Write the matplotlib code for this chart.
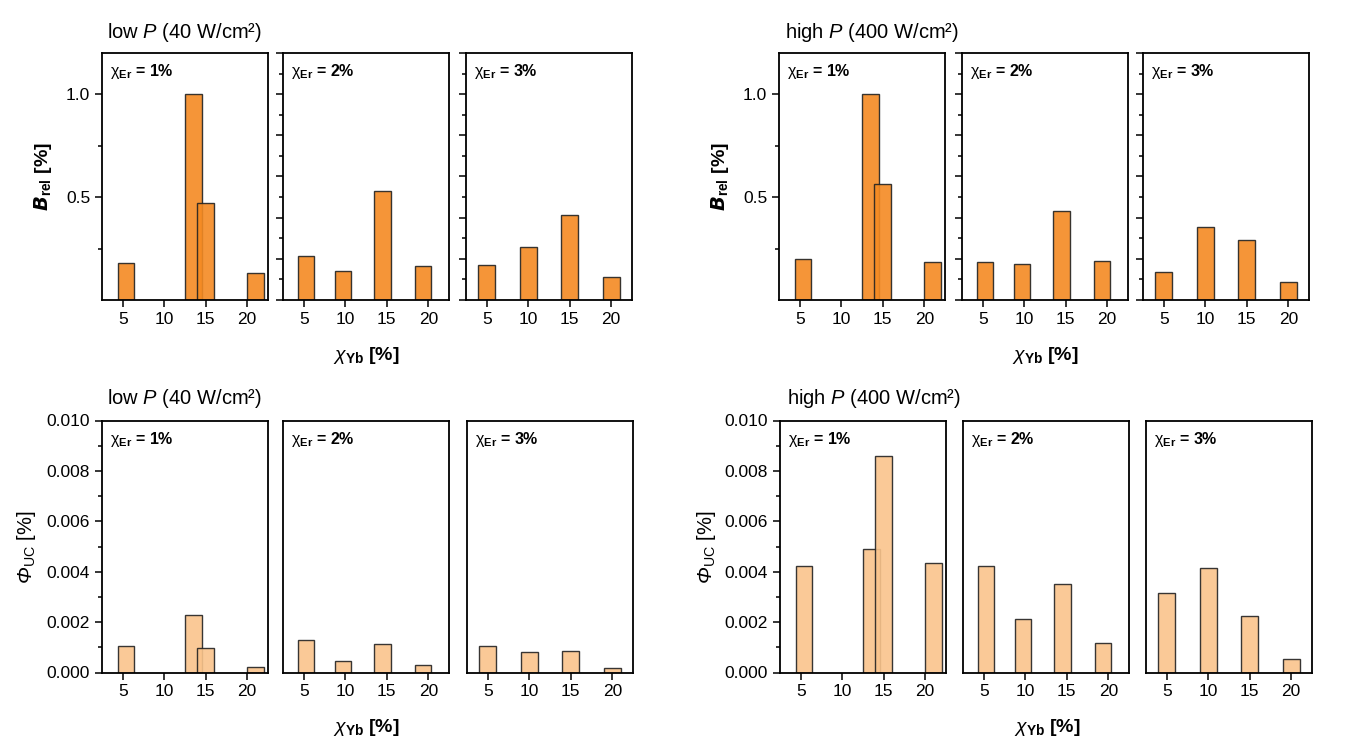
import matplotlib
matplotlib.use("Agg")
import matplotlib.pyplot as plt
from matplotlib.ticker import MultipleLocator, FixedLocator, NullLocator, NullFormatter

plt.rcParams['font.family'] = ['Liberation Sans', 'DejaVu Sans']
plt.rcParams['mathtext.fontset'] = 'custom'
# rm kursiv, damit das grosse Phi kursiv erscheint; aufrechte Teile ueber sf
plt.rcParams['mathtext.rm'] = 'Liberation Sans:italic'
plt.rcParams['mathtext.sf'] = 'Liberation Sans'
plt.rcParams['mathtext.it'] = 'Liberation Sans:italic'
plt.rcParams['mathtext.bf'] = 'Liberation Sans:bold'

# Yb-Konzentrationen je Er-Gehalt
yb_er1 = [5.4, 13.5, 15.0, 21.0]
yb_er2 = [5.25, 9.75, 14.5, 19.35]
yb_er3 = [5.0, 10.0, 15.0, 20.0]
yb_pos = [yb_er1, yb_er2, yb_er3]
er_labels = ['1%', '2%', '3%']
xticks = [5, 10, 15, 20]

# relative Helligkeit B_rel
brel_low_er1 = [0.178, 1.0, 0.47, 0.13]
brel_low_er2 = [0.214, 0.141, 0.528, 0.165]
brel_low_er3 = [0.172, 0.259, 0.413, 0.112]
brel_high_er1 = [0.198, 1.0, 0.562, 0.186]
brel_high_er2 = [0.186, 0.177, 0.434, 0.191]
brel_high_er3 = [0.136, 0.353, 0.290, 0.089]

# Quantenausbeute Phi_UC
phi_low_er1 = [0.00104, 0.00230, 0.00099, 0.00021]
phi_low_er2 = [0.00127, 0.00045, 0.00115, 0.00028]
phi_low_er3 = [0.00106, 0.00082, 0.00087, 0.00019]
phi_high_er1 = [0.00424, 0.00490, 0.00861, 0.00436]
phi_high_er2 = [0.00424, 0.00213, 0.00352, 0.00118]
phi_high_er3 = [0.00317, 0.00413, 0.00225, 0.00053]

W, H = 1369, 751
fig = plt.figure(figsize=(W / 100, H / 100), dpi=100)

col_top = '#F48A22'
col_bot = '#FAC48C'


def px_axes(left, top, width, height):
    return fig.add_axes([left / W, 1 - (top + height) / H, width / W, height / H])


def panel_group(lefts, top, height, values, color, ylim, first_ticks, other_ticks):
    axs = []
    for i, left in enumerate(lefts):
        ax = px_axes(left, top, 166, height)
        for x, v in zip(yb_pos[i], values[i]):
            ax.bar(x, v, width=2.0, color=color, alpha=0.9, edgecolor='#222222', linewidth=1.0)
        ax.set_xlim(2.5, 22.5)
        ax.set_ylim(*ylim)
        ax.set_xticks(xticks)
        ax.tick_params(axis='both', direction='out', labelsize=12.5, width=1.1, length=5)
        ax.tick_params(axis='y', which='minor', direction='out', width=1.1, length=3)
        for s in ax.spines.values():
            s.set_linewidth(1.3)
        if i == 0:
            first_ticks(ax)
        else:
            other_ticks(ax)
        ax.text(0.05, 0.925, r'$\mathsf{\chi}_{\mathbf{Er}}$ = ' + er_labels[i], transform=ax.transAxes,
                fontsize=11.5, fontweight='bold', va='center', ha='left')
        axs.append(ax)
    return axs


def top_first(ax):
    ax.yaxis.set_major_locator(FixedLocator([0.5, 1.0]))
    ax.yaxis.set_minor_locator(FixedLocator([0.25, 0.75]))
    ax.set_yticklabels(['0.5', '1.0'])


def top_other(ax):
    ax.yaxis.set_major_locator(MultipleLocator(0.2))
    ax.yaxis.set_minor_locator(MultipleLocator(0.1))
    ax.yaxis.set_major_formatter(NullFormatter())


def bot_first(ax):
    ax.yaxis.set_major_locator(MultipleLocator(0.002))
    ax.yaxis.set_minor_locator(MultipleLocator(0.001))
    ax.yaxis.set_major_formatter(plt.FuncFormatter(lambda v, p: f'{v:.3f}'))


def bot_other(ax):
    ax.yaxis.set_major_locator(NullLocator())
    ax.yaxis.set_minor_locator(NullLocator())


top_h = 247
bot_h = 252
panel_group([102, 283, 466], 53, top_h, [brel_low_er1, brel_low_er2, brel_low_er3],
            col_top, (0, 1.2), top_first, top_other)
panel_group([779, 962, 1143], 53, top_h, [brel_high_er1, brel_high_er2, brel_high_er3],
            col_top, (0, 1.2), top_first, top_other)
panel_group([102, 283, 467], 420.5, bot_h, [phi_low_er1, phi_low_er2, phi_low_er3],
            col_bot, (0, 0.010), bot_first, bot_other)
panel_group([780, 963, 1146], 420.5, bot_h, [phi_high_er1, phi_high_er2, phi_high_er3],
            col_bot, (0, 0.010), bot_first, bot_other)

# Ueberschriften
for x, y, s in [(107, 32, r'low $P$ (40 W/cm²)'), (785, 32, r'high $P$ (400 W/cm²)'),
                (107, 398, r'low $P$ (40 W/cm²)'), (787, 398, r'high $P$ (400 W/cm²)')]:
    fig.text(x / W, 1 - y / H, s, fontsize=14.5, ha='left', va='center')

# y-Achsenbeschriftung
for x in [43, 720]:
    fig.text(x / W, 1 - 177 / H, r'$\boldsymbol{B}_{\mathbf{rel}}$ [%]', rotation=90, fontsize=14,
             fontweight='bold', ha='center', va='center')
for x in [27, 707]:
    fig.text(x / W, 1 - 547 / H, r'$\Phi_{\mathsf{UC}}$ [%]', rotation=90, fontsize=14.5,
             ha='center', va='center')

# x-Achsenbeschriftung
for x, y in [(366, 355), (1045, 355), (366, 728), (1047, 728)]:
    fig.text(x / W, 1 - y / H, r'$\chi_{\mathbf{Yb}}$ [%]', fontsize=14, fontweight='bold',
             ha='center', va='center')

fig.savefig('out.png', dpi=100)
